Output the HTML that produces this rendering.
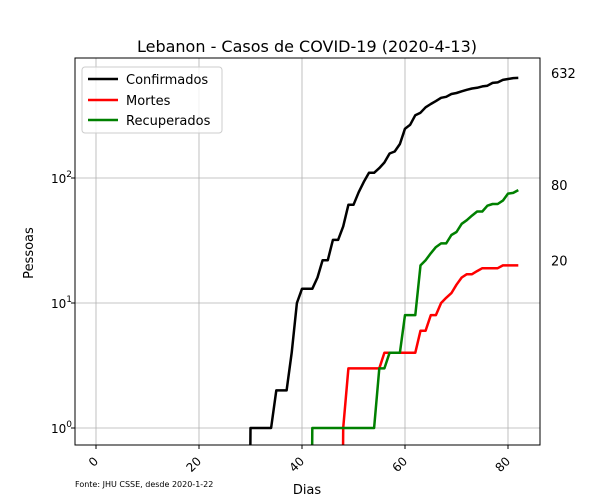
<!DOCTYPE html>
<html><head><meta charset="utf-8"><style>
html,body{margin:0;padding:0;background:#fff;overflow:hidden;width:600px;height:500px;}
svg{display:block;}
svg text{font-family:"DejaVu Sans","Liberation Sans",sans-serif;}
</style></head><body>
<svg id="chart" width="600" height="500" xmlns="http://www.w3.org/2000/svg">
<defs><clipPath id="pc"><rect x="75" y="58" width="465" height="387"/></clipPath></defs>
<rect width="600" height="500" fill="#fff"/>
<text x="307" y="52" text-anchor="middle" font-size="16">Lebanon - Casos de COVID-19 (2020-4-13)</text>
<g id="grid"></g>
<g id="series" clip-path="url(#pc)"></g>
<rect x="75" y="58" width="465" height="387" fill="none" stroke="#000" stroke-width="1"/>
<g id="ticks"></g>
<text x="307" y="494" text-anchor="middle" font-size="13">Dias</text>
<text transform="translate(33,253) rotate(-90)" text-anchor="middle" font-size="13">Pessoas</text>
<text x="75" y="487" font-size="8">Fonte: JHU CSSE, desde 2020-1-22</text>
<g id="endlabels"></g>
<g>
<rect x="82" y="67" width="140" height="66" rx="3" fill="#fff" fill-opacity="0.8" stroke="#ccc"/>
<line x1="88" y1="79" x2="118" y2="79" stroke="#000" stroke-width="2.5"/>
<text x="126" y="84" font-size="13">Confirmados</text>
<line x1="88" y1="100" x2="118" y2="100" stroke="#f00" stroke-width="2.5"/>
<text x="126" y="105" font-size="13">Mortes</text>
<line x1="88" y1="120" x2="118" y2="120" stroke="#008000" stroke-width="2.5"/>
<text x="126" y="125" font-size="13">Recuperados</text>
</g>
</svg>
<script>
const confirmedStart = 29;
const confirmed = [0,1,1,1,1,1,2,2,2,4,10,13,13,13,16,22,22,32,32,41,61,61,77,93,110,110,120,133,157,163,187,248,267,318,333,368,391,412,438,446,470,479,494,508,520,527,541,548,576,582,609,619,630,632];
const deathsStart = 47;
const deaths = [0,1,3,3,3,3,3,3,3,4,4,4,4,4,4,4,6,6,8,8,10,11,12,14,16,17,17,18,19,19,19,19,20,20,20,20];
const recoveredStart = 41;
const recovered = [0,1,1,1,1,1,1,1,1,1,1,1,1,1,3,3,4,4,4,8,8,8,20,22,25,28,30,30,35,37,43,46,50,54,54,60,62,62,66,75,76,80];
const xTicks = [0,20,40,60,80];
const yTickExps = [0,1,2];

const NS="http://www.w3.org/2000/svg";
function X(d){return 96+5.15*d;}
function Y(v){return 428-125*Math.log10(v);}
function mk(tag,attrs,parent){const e=document.createElementNS(NS,tag);for(const k in attrs)e.setAttribute(k,attrs[k]);parent.appendChild(e);return e;}
const grid=document.getElementById('grid'),ticks=document.getElementById('ticks'),ser=document.getElementById('series'),endl=document.getElementById('endlabels');
xTicks.forEach(t=>{
  const gl=mk('line',{x1:X(t),x2:X(t),y1:58,y2:445,stroke:'#b0b0b0','stroke-width':0.8},grid);
  
  
  mk('line',{x1:X(t),x2:X(t),y1:445,y2:449,stroke:'#000'},ticks);
  const tx=mk('text',{x:X(t)+3,y:462,'font-size':12,'text-anchor':'end',transform:`rotate(-45 ${X(t)+3} 462)`},ticks);
  tx.textContent=t;
  
  
});
yTickExps.forEach(e=>{
  const y=Y(Math.pow(10,e));
  const gl=mk('line',{x1:75,x2:540,y1:y,y2:y,stroke:'#b0b0b0','stroke-width':0.8},grid);
  
  
  mk('line',{x1:71,x2:75,y1:y,y2:y,stroke:'#000'},ticks);
  const tx=mk('text',{x:51,y:y+5,'font-size':12},ticks);
  tx.innerHTML='10<tspan dy="-6" font-size="9">'+e+'</tspan>';
  
  
});
function line(arr,start,color,name){
  const pts=[];
  arr.forEach((v,i)=>{
    if(v>0){pts.push([X(start+i),Y(v)]);}
    else if(i+1<arr.length && arr[i+1]>0){pts.push([X(start+i+1)-0.2,455]);}
  });
  const p=mk('polyline',{points:pts.map(q=>q[0].toFixed(1)+','+q[1].toFixed(1)).join(' '),fill:'none',stroke:color,'stroke-width':2.5,'stroke-linejoin':'round'},ser);
  
  
  const last=arr[arr.length-1];
  const t=mk('text',{x:551,y:Y(last),'font-size':13},endl);
  t.textContent=last;
  
  
}
line(confirmed,confirmedStart,'#000','confirmados-line');
line(deaths,deathsStart,'#f00','mortes-line');
line(recovered,recoveredStart,'#008000','recuperados-line');
</script>
</body></html>
